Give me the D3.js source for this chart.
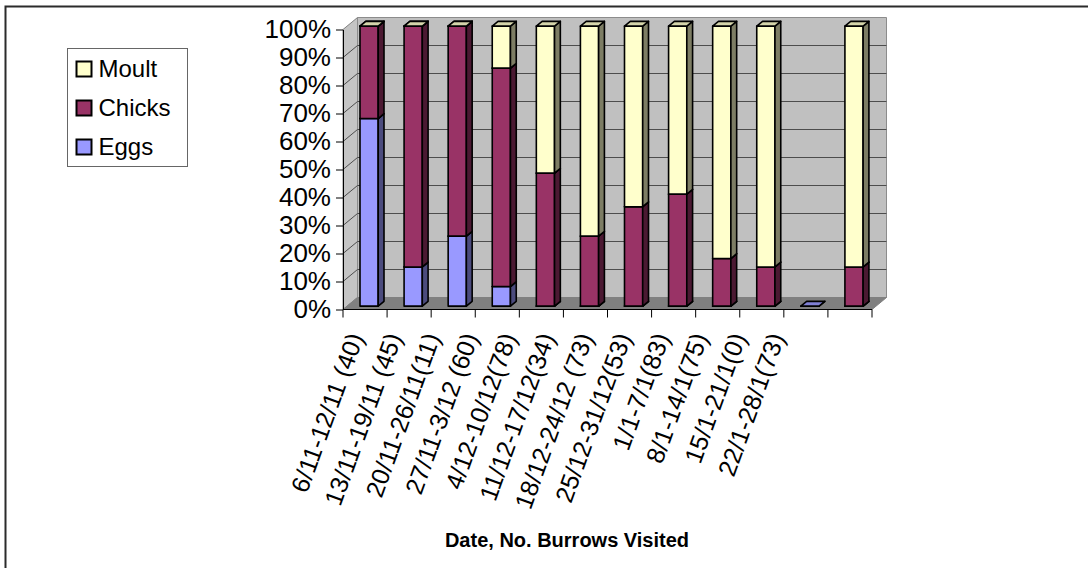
<!DOCTYPE html>
<html>
<head>
<meta charset="utf-8">
<script src="https://cdn.jsdelivr.net/npm/d3@7"></script>
<style>
    body { margin: 0; background: white; }
    svg { display: block; font-family: "Liberation Sans", Arial, sans-serif; }
</style>
</head>
<body>
<div id="container"></div>
<script>
// weekly breeding stage of burrows, % of burrows visited
const categories = ["6/11-12/11 (40)", "13/11-19/11 (45)", "20/11-26/11(11)", "27/11-3/12 (60)", "4/12-10/12(78)", "11/12-17/12(34)",
    "18/12-24/12 (73)", "25/12-31/12(53)", "1/1-7/1(83)", "8/1-14/1(75)", "15/1-21/1(0)", "22/1-28/1(73)"]
const eggs = [67, 14, 25, 7, 0, 0, 0, 0, 0, 0, 0, 0]
const chicks = [33, 86, 75, 78, 47.5, 25, 35.5, 40, 17, 14, null, 14]
const moult = [0, 0, 0, 15, 52.5, 75, 64.5, 60, 83, 86, null, 86]
const yTicks = [0, 10, 20, 30, 40, 50, 60, 70, 80, 90, 100]

const series = [
    { name: "Eggs", values: eggs, color: "#9999ff" },
    { name: "Chicks", values: chicks, color: "#993366" },
    { name: "Moult", values: moult, color: "#ffffcc" }
]

const w = 1088
const h = 568
const plot = { left: 343, right: 872, top: 29.5, bottom: 309.5 }
const depth = { x: 14.5, y: 12 }
const barZ = [0.28, 0.68]

const svg = d3.select("#container")
    .append("svg")
    .attr("width", w)
    .attr("height", h)

// outer frame (only left + top show in the picture)
svg.append("path")
    .attr("d", `M5.5,${h + 5}V6.5H${w + 5}`)
    .attr("fill", "none")
    .attr("stroke", "#2b2b2b")
    .attr("stroke-width", 2)

const xScale = d3.scaleBand()
    .domain(categories)
    .range([plot.left, plot.right])
    .paddingInner(0.587)
    .paddingOuter(0.2935)
const yScale = d3.scaleLinear()
    .domain([0, 100])
    .range([plot.bottom, plot.top])

// push a front-plane point back into the chart depth
const proj = (x, y, z) => [x + z * depth.x, y - z * depth.y]
const poly = (pts) => "M" + pts.map((p) => p.join(",")).join("L") + "Z"

const L = plot.left, R = plot.right
const yb = yScale(0), yt = yScale(100)

// walls + floor
svg.append("path")
    .attr("d", poly([proj(L, yb, 0), proj(L, yt, 0), proj(L, yt, 1), proj(L, yb, 1)]))
    .attr("fill", "#c4c4c4")
    .attr("stroke", "#808080")
svg.append("path")
    .attr("d", poly([proj(L, yb, 1), proj(L, yt, 1), proj(R, yt, 1), proj(R, yb, 1)]))
    .attr("fill", "#c0c0c0")
    .attr("stroke", "#8c8c8c")
svg.append("path")
    .attr("d", poly([proj(L, yb, 0), proj(R, yb, 0), proj(R, yb, 1), proj(L, yb, 1)]))
    .attr("fill", "#808080")
    .attr("stroke", "#808080")

const grid = svg.append("g")
    .attr("fill", "none")
    .attr("stroke", "#4d4d4d")
grid.selectAll(null)
    .data(yTicks.filter((d) => d > 0 && d < 100))
    .enter()
    .append("path")
    .attr("d", (d) => "M" + [proj(L, yScale(d), 0), proj(L, yScale(d), 1), proj(R, yScale(d), 1)].map((p) => p.join(",")).join("L"))

// axes
const yAxis = d3.axisLeft(yScale)
    .tickValues(yTicks)
    .tickFormat((d) => d + "%")
    .tickSize(7)
    .tickSizeOuter(0)
    .tickPadding(5)
const yg = svg.append("g")
    .attr("transform", `translate(${L}, 0)`)
    .call(yAxis)
yg.selectAll("text")
    .style("font-size", "26px")
    .attr("fill", "#000")
yg.selectAll("line, path").attr("stroke", "#000")

const edges = d3.range(categories.length + 1).map((i) => L + i * xScale.step())
svg.append("line")
    .attr("x1", L)
    .attr("x2", R)
    .attr("y1", yb)
    .attr("y2", yb)
    .attr("stroke", "#000")
svg.selectAll(null)
    .data(edges)
    .enter()
    .append("line")
    .attr("x1", (d) => d)
    .attr("x2", (d) => d)
    .attr("y1", yb)
    .attr("y2", yb + 8)
    .attr("stroke", "#000")

// 3d stacked columns
const bars = svg.append("g")
    .attr("stroke", "#000")
    .attr("stroke-width", 1.6)
    .attr("stroke-linejoin", "round")
categories.forEach((c, i) => {
    const x0 = xScale(c)
    const x1 = x0 + xScale.bandwidth()
    let cum = 0
    series.forEach((s) => {
        const v = s.values[i]
        if (v == null) return
        const y0 = yScale(cum)
        const y1 = yScale(cum + v)
        cum += v
        const g = bars.append("g")
        g.append("path")
            .attr("d", poly([proj(x0, y0, barZ[0]), proj(x1, y0, barZ[0]), proj(x1, y1, barZ[0]), proj(x0, y1, barZ[0])]))
            .attr("fill", s.color)
        g.append("path")
            .attr("d", poly([proj(x1, y0, barZ[0]), proj(x1, y0, barZ[1]), proj(x1, y1, barZ[1]), proj(x1, y1, barZ[0])]))
            .attr("fill", d3.color(s.color).darker(2))
        g.append("path")
            .attr("d", poly([proj(x0, y1, barZ[0]), proj(x1, y1, barZ[0]), proj(x1, y1, barZ[1]), proj(x0, y1, barZ[1])]))
            .attr("fill", d3.color(s.color).darker(0.5))
    })
})

// category labels, rotated
const labelScale = d3.scaleLinear()
    .domain([0, categories.length - 1])
    .range([364, 785])
svg.selectAll(null)
    .data(categories)
    .enter()
    .append("text")
    .attr("transform", (d, i) => `translate(${labelScale(i)}, 337) rotate(-70)`)
    .attr("text-anchor", "end")
    .style("font-size", "25px")
    .text((d) => d)

svg.append("text")
    .attr("x", 567)
    .attr("y", 547)
    .attr("text-anchor", "middle")
    .style("font-size", "20px")
    .style("font-weight", "bold")
    .text("Date, No. Burrows Visited")

// legend
const legend = svg.append("g")
    .attr("transform", "translate(67.5, 48.5)")
legend.append("rect")
    .attr("width", 120)
    .attr("height", 118)
    .attr("fill", "#fff")
    .attr("stroke", "#666")
const items = legend.selectAll(null)
    .data(series.slice().reverse())
    .enter()
    .append("g")
    .attr("transform", (d, i) => `translate(0, ${28.5 + i * 39})`)
items.append("rect")
    .attr("x", 9)
    .attr("y", -15.5)
    .attr("width", 15)
    .attr("height", 15)
    .attr("fill", (d) => d.color)
    .attr("stroke", "#000")
    .attr("stroke-width", 2)
items.append("text")
    .attr("x", 31)
    .style("font-size", "24px")
    .text((d) => d.name)
</script>
</body>
</html>
